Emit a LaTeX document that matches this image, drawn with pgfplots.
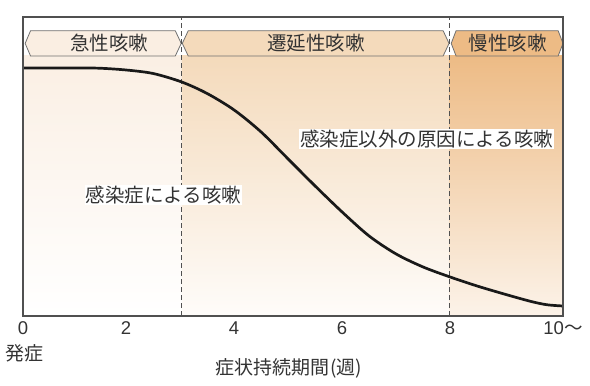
\documentclass[border=0pt]{standalone}
\usepackage{pgfplots}
\pgfplotsset{compat=1.18}
\usepackage{fontspec}
\setmainfont{Liberation Sans}
\newfontfamily\jp{Noto Sans CJK JP}
\definecolor{txt}{HTML}{333333}
\definecolor{frm}{HTML}{505050}
\definecolor{bord}{HTML}{707070}
\definecolor{bA}{HTML}{FAEEE2}
\definecolor{bB}{HTML}{F4DABB}
\definecolor{bC}{HTML}{EDBB85}
\newcommand\banner[5]{%
  \filldraw[fill=#5, draw=bord, line width=0.8pt]
    (axis cs:#1,272.6) -- (axis cs:#2,285.3) -- (axis cs:#3,285.3) -- (axis cs:#4,272.6)
    -- (axis cs:#3,260) -- (axis cs:#2,260) -- cycle;}
\begin{document}
\begin{tikzpicture}
\useasboundingbox (-23pt,-70pt) rectangle (567pt,316pt);
\begin{axis}[
  width=540pt, height=299pt, scale only axis,
  xmin=0.09, xmax=10.09, ymin=0, ymax=299,
  axis on top, clip=false,
  axis line style={frm, line width=1.2pt},
  ytick=\empty,
  xtick={0.09,2,4,6,8,10.09},
  xticklabels={0,2,4,6,8,10{\jp ～}},
  major tick length=0pt,
  tick style={draw=none},
  xticklabel style={font=\fontsize{18.5}{19}\selectfont, text=txt, yshift=-2pt},
  /pgf/number format/assume math mode=true,
]
% background gradients
\fill[top color=bA!95!white, middle color=bA!45!white, bottom color=white, draw=none]
  (axis cs:0.09,0) rectangle (axis cs:3.03,260);
\fill[top color=bB, middle color=bB!55!white, bottom color=bB!8!white, draw=none]
  (axis cs:3.03,0) rectangle (axis cs:7.99,260);
\fill[top color=bC, middle color=bC!60!white, bottom color=bC!18!white, draw=none]
  (axis cs:7.99,0) rectangle (axis cs:10.09,260);
% banners
\banner{0.13}{0.23}{2.91}{3.02}{bA}
\banner{3.04}{3.15}{7.87}{7.98}{bB}
\banner{8.02}{8.11}{10.0}{10.09}{bC}
\node[font=\jp\fontsize{19.5}{20}\selectfont, text=txt] at (axis cs:1.69,272.6) {急性咳嗽};
\node[font=\jp\fontsize{19.5}{20}\selectfont, text=txt] at (axis cs:5.52,272.6) {遷延性咳嗽};
\node[font=\jp\fontsize{19.5}{20}\selectfont, text=txt] at (axis cs:9.07,272.6) {慢性咳嗽};
% dashed separators
\draw[frm, line width=1pt, dash pattern=on 5pt off 3pt] (axis cs:3.03,0) -- (axis cs:3.03,299);
\draw[frm, line width=1pt, dash pattern=on 5pt off 3pt] (axis cs:7.99,0) -- (axis cs:7.99,299);
% curve
\addplot[black!90, line width=2.7pt, smooth] coordinates {
  (0.09,248) (1.0,248) (1.5,247.8) (2.0,246) (2.5,242.5) (3.03,234) (3.5,222.5)
  (4.0,206) (4.5,184) (5.0,157) (5.5,130) (6.0,104) (6.5,80) (7.0,62)
  (7.5,49) (8.0,39) (8.5,30) (9.0,22) (9.5,14.5) (9.8,11.2) (10.09,10)
};
% labels
\node[fill=white, inner sep=1pt, font=\jp\fontsize{19.5}{20}\selectfont, text=txt] at (axis cs:2.69,121) {感染症による咳嗽};
\node[fill=white, inner sep=1pt, font=\jp\fontsize{19.5}{20}\selectfont, text=txt] at (axis cs:7.57,177) {感染症以外の原因による咳嗽};
\node[font=\jp\fontsize{19}{20}\selectfont, text=txt] at (axis cs:0.11,-37) {発症};
\node[font=\jp\fontsize{19}{20}\selectfont, text=txt] at (axis cs:5.01,-52) {症状持続期間\kern1pt(週)};
\end{axis}
\end{tikzpicture}
\end{document}
